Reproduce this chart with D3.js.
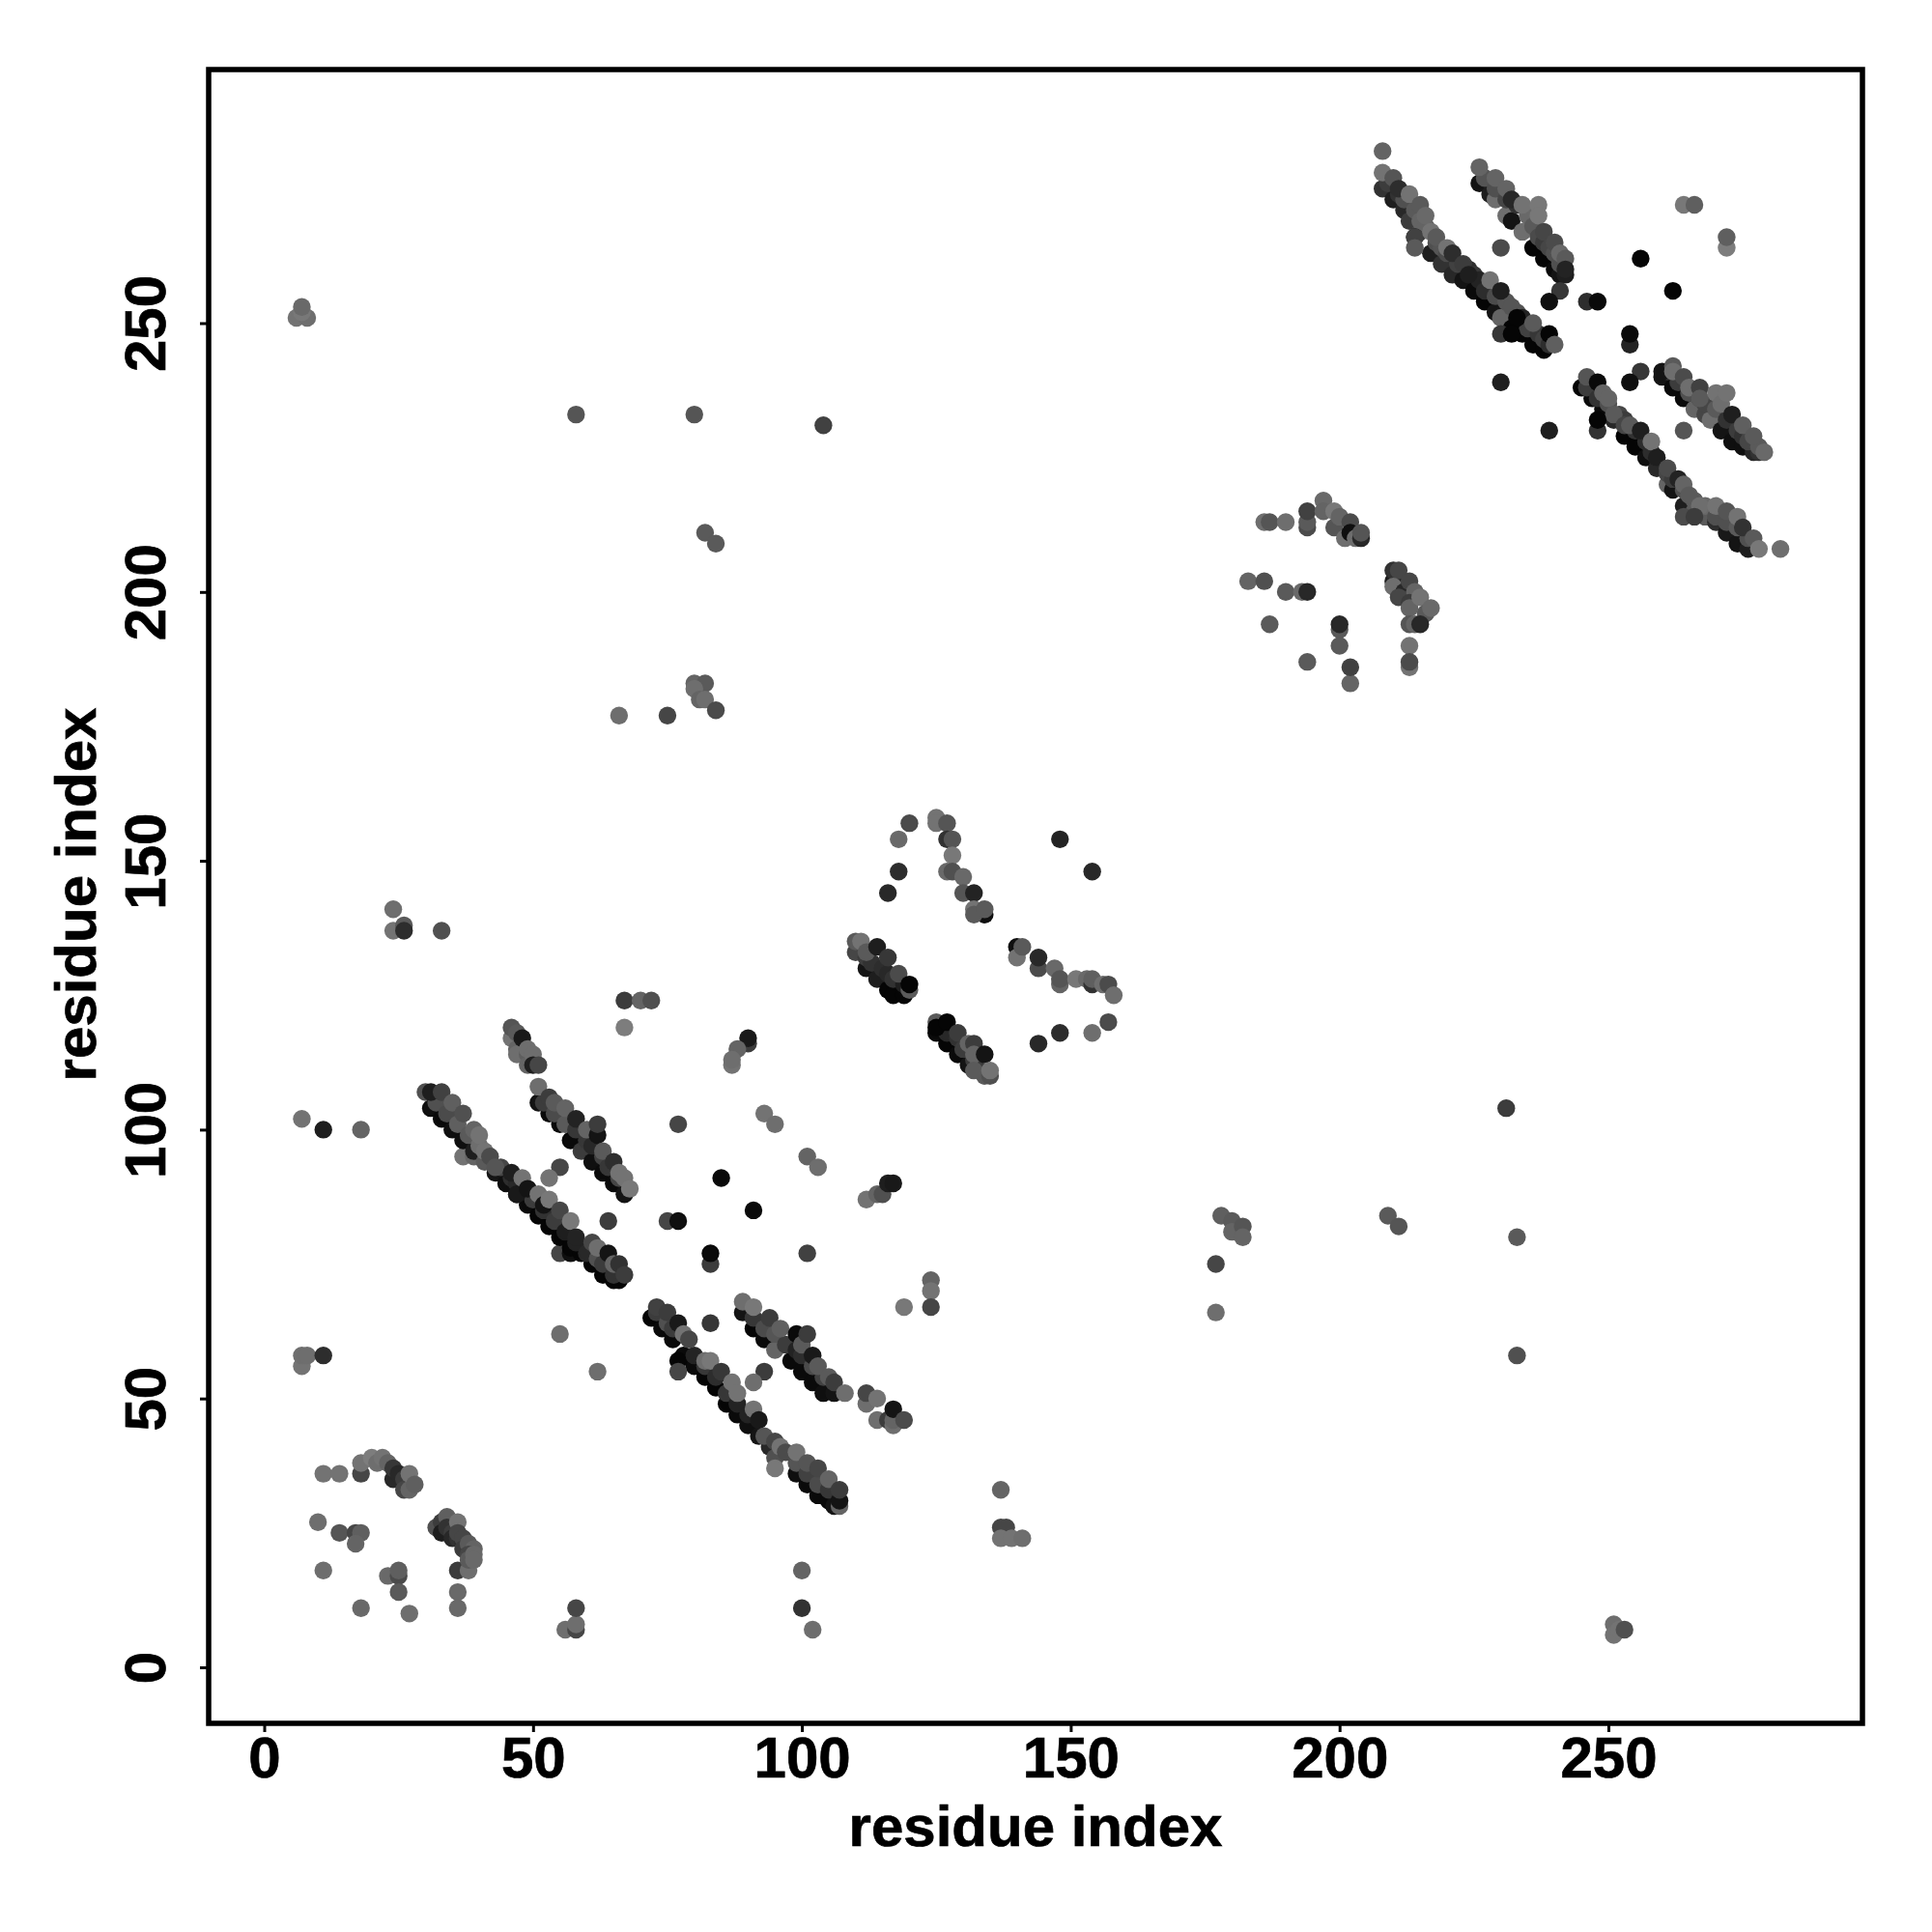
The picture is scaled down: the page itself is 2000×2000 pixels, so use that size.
<!DOCTYPE html>
<html><head><meta charset="utf-8">
<script src="https://cdn.jsdelivr.net/npm/d3@7"></script>
<style>html,body{margin:0;padding:0;background:#fff}svg{display:block}</style>
</head><body>
<svg id="c" width="2000" height="2000"></svg>
<script>
const xTicks=[0,50,100,150,200,250];
const yTicks=[0,50,100,150,200,250];
const xTitle="residue index", yTitle="residue index";
// each entry: residue x, residue y, gray level
const bottomLeft=[[11,36,115],[14,36,115],[18,36,70],[18,38,115],[20,39,125],[21,38,110],[22,39,115],[23,38,100],[24,35,40],[24,37,55],[25,36,40],[26,35,60],[26,33,70],[27,33,100],[27,36,115],[28,34,95],
[10,27,110],[14,25,85],[17,25,70],[18,25,95],[17,23,100],[11,18,110],[23,17,105],[25,17,75],[25,18,95],[25,14,90],[18,11,105],[27,10,110],[36,14,105],[36,11,105],[36,18,60],[38,18,110],
[32,26,80],[33,27,60],[34,28,95],[33,25,30],[34,26,50],[35,25,60],[36,27,115],[35,24,40],[36,24,50],[36,25,70],[37,23,45],[37,24,70],[37,22,60],[38,23,90],[39,22,100],[38,21,70],[38,20,90],[39,21,105],[39,20,105]];
const isolatedLeft=[[6,251,115],[8,251,110],[7,252,120],[7,253,105],[58,233,85],[80,233,85],[104,231,65],[82,211,90],[84,209,90],
[80,183,100],[82,183,90],[80,182,110],[81,180,100],[82,180,110],[84,178,75],[66,177,110],[75,177,70],
[24,141,110],[24,137,115],[26,138,90],[26,137,45],[33,137,80],[7,102,115],[11,100,30],[18,100,100],[7,56,115],[7,58,110],[8,58,110],[11,58,45],
[56,7,110],[58,7,70],[58,8,110],[58,11,70],[100,18,100],[100,11,50],[102,7,110],[251,8,110],[251,6,115],[252,7,115],[253,7,80],
[137,33,100],[137,26,70],[138,26,70],[137,24,115],[139,24,115],[141,24,110]];
const isolatedRight=[[177,66,110],[177,75,70],[178,84,95],[180,83,90],[180,81,100],[182,82,85],[182,80,100],[209,84,90],[211,82,85],[231,104,60],[233,80,90],[233,58,80]];
const isolatedMiddle=[[67,119,125],[67,124,60],[70,124,100],[72,124,80],[90,116,60],[90,117,25],[88,115,100],[87,112,115],[87,113,110],
[77,101,70],[93,103,115],[95,101,110],[101,95,100],[103,93,110],[85,91,10],[91,85,10],[64,83,60],[75,83,70],[77,83,15],[83,75,60],[83,77,10],[101,77,65],
[55,93,70],[53,91,115],[37,95,115],[39,95,100],[55,77,70],[57,77,15],[112,87,115],[114,88,100],[115,88,80],[116,90,30],[117,90,25],
[83,64,55],[93,55,60],[91,53,110],[55,62,110],[62,55,110],[119,67,120],[124,72,100],[124,70,115],[124,67,70]];
const lineAEdge=[[31,104,15],[33,102,10],[35,100,15],[37,98,15],[39,96,30],[41,94,90],[43,92,20],[45,90,15],[47,88,10],[49,86,10],[51,84,5],[53,82,5],[55,80,5],[57,78,5],[59,77,5],[61,75,5],[63,73,5],[65,72,5],[66,72,5]];
const lineAMid=[[32,105,80],[34,103,75],[36,101,95],[38,99,90],[40,97,110],[44,93,70],[46,91,45],[47,90,40],[49,89,80],[50,87,60],[52,85,50],[54,83,60],[56,81,30],[58,79,35],[60,77,40],[62,76,80],[63,75,60],[65,73,50]];
const lineA=[[30,107,80],[31,107,30],[33,107,65],[35,105,95],[37,103,80],[39,100,100],[40,99,115],[41,96,115],[42,95,75],[43,93,85],[46,92,30],[47,88,25],[48,91,115],[49,89,20],[51,88,115],[52,86,20],[53,87,120],[55,85,70],[57,83,120],[58,80,35],[61,79,70],[62,78,110],[64,77,20],[65,75,100],[66,75,50],[67,73,60]];
const lineBEdge=[[51,105,20],[53,103,10],[55,101,10],[57,98,10],[59,96,60],[61,94,15],[63,92,10],[65,90,10],[67,88,20]];
const lineBMid=[[52,105,60],[54,103,75],[56,101,90],[58,100,55],[60,98,55],[61,97,40],[63,95,65],[64,93,55],[66,91,70]];
const lineB=[[46,117,115],[46,119,85],[47,118,90],[47,115,100],[47,114,110],[49,114,95],[48,117,25],[49,115,110],[50,113,40],[49,112,100],[50,114,110],[50,112,30],[51,112,70],
[51,108,110],[53,106,60],[54,105,90],[56,104,100],[58,102,35],[60,100,100],[62,99,20],[62,101,60],[63,96,90],[65,94,45],[66,92,115],[67,91,115],[68,89,120]];
const lineCEdge=[[72,65,5],[74,63,10],[76,61,10],[78,58,10],[80,56,10],[82,54,5],[84,52,5],[86,49,5],[88,47,10],[90,45,15],[92,43,20],[94,41,40],[95,39,80],[99,36,15],[101,34,10],[103,32,10],[105,31,10],[106,30,20]];
const lineCMid=[[73,66,60],[75,64,80],[76,63,60],[77,57,5],[80,58,35],[82,56,55],[84,54,45],[86,51,55],[88,49,35],[90,47,35],[99,38,85],[101,36,65],[103,34,75],[105,33,55]];
const lineC=[[73,67,65],[75,66,60],[77,55,70],[77,64,25],[78,62,115],[79,61,70],[82,57,110],[83,57,120],[85,55,55],[87,53,115],[88,51,115],[91,48,115],[92,46,25],[93,43,85],[95,37,120],[95,42,70],[96,41,115],[97,40,75],[99,40,115],[101,38,85],[103,37,70],[105,35,100],[107,30,100],[107,31,20],[107,33,60]];
const lineDEdge=[[89,66,20],[91,63,5],[93,61,10],[95,59,100],[98,57,10],[100,55,10],[102,53,10],[104,51,15],[106,51,20]];
const lineDMid=[[91,65,55],[93,63,75],[95,62,85],[97,60,60],[99,59,35],[100,58,45],[102,56,75],[104,54,65]];
const lineD=[[89,68,110],[91,67,120],[94,65,60],[96,63,95],[99,62,10],[100,60,90],[101,62,60],[102,58,25],[103,56,90],[105,54,90],[106,53,60],[108,51,110],
[112,49,110],[112,51,70],[114,50,115],[114,46,110],[116,46,60],[117,45,110],[117,46,100],[117,48,20],[119,46,75]];
const archMiddle=[[120,157,75],[118,154,105],[118,148,45],[116,144,40],[125,158,115],[125,157,115],[127,157,85],[127,154,50],[128,154,85],[128,151,120],[127,148,105],[128,148,80],[130,147,105],[130,144,85],[132,144,35],[132,141,115],[134,140,15],[132,140,90],[134,141,90],
[148,154,35],[154,148,40],[140,134,15],[140,132,115],[141,134,90],[144,130,75],[144,132,40],[147,130,105],[148,127,100],[148,128,85],[151,128,120],[153,128,105],[154,127,50],[154,128,95],[156,127,110],[157,127,75],[158,125,110],
[157,120,75],[154,118,110],[148,118,45],[144,116,40]];
const lineF=[[110,133,70],[112,130,20],[114,128,30],[116,126,5],[117,125,5],[119,125,5],
[112,132,60],[113,131,50],[115,130,45],[116,129,40],[117,128,50],[119,127,30],
[120,126,90],[110,135,90],[111,135,115],[112,133,90],[114,134,30],[116,132,55],[118,129,75],[120,127,5]];
const lineG=[[125,118,10],[127,116,5],[129,114,10],[131,112,20],[133,111,60],[134,110,90],
[127,118,40],[129,117,50],[130,115,60],[132,113,60],
[125,120,90],[125,119,5],[127,120,5],[129,118,60],[131,116,100],[132,116,60],[132,114,100],[132,111,90],[134,114,20],[135,110,80],[135,111,115]];
const archUpper=[[186,213,110],[187,213,85],[190,213,110],[194,212,75],[194,213,90],[194,215,65],[197,217,105],[197,215,100],[199,212,85],[199,215,120],[200,214,100],[201,210,110],[202,213,75],[202,211,15],[203,210,110],[204,210,40],[204,211,85],
[183,202,100],[186,202,80],[190,200,90],[193,200,105],[194,200,40],[187,194,90],[200,193,90],[200,194,40],[200,190,90],[194,187,90],[202,183,100],[202,186,65],
[210,202,30],[210,204,50],[211,204,70],[210,201,110],[212,200,40],[213,202,70],[211,199,70],[214,200,100],[213,198,60],[213,197,100],[215,199,115],[216,196,90],[217,197,105],[213,194,85],[214,194,100],[215,194,40],[213,190,115],[213,186,115],[213,187,75]];
const line1Edge=[[208,275,50],[210,273,30],[212,271,40],[213,269,60],[215,267,70],[217,263,30],[219,261,50],[221,259,40],[223,258,20],[225,256,10],[227,254,5],[229,252,20],[230,251,100],[232,249,5],[234,248,5],[236,246,5],[238,245,5]];
const line1Mid=[[209,276,60],[211,274,50],[212,273,80],[214,271,90],[215,269,100],[216,268,100],[218,265,80],[219,264,85],[220,263,75],[222,261,65],[224,260,45],[225,259,55],[226,258,35],[227,256,45],[229,255,75],[231,254,85],[233,252,85],[234,251,35],[235,249,65],[237,248,55],[238,247,65],[239,246,45]];
const line1=[[208,278,115],[210,277,85],[211,275,45],[213,274,115],[215,272,90],[216,270,105],[214,266,30],[214,266,65],[214,264,90],[217,267,115],[218,266,90],[220,264,115],[221,263,45],[223,261,60],[224,259,30],[228,258,115],[230,256,30],[232,253,85],[233,251,5],[236,250,90],[239,248,5],[240,246,95]];
const line2=[[226,276,20],[228,274,30],[229,273,110],[231,270,110],[232,269,20],[234,267,110],[236,264,5],[238,262,5],[240,260,10],[241,259,20],[242,259,30],
[227,277,85],[229,275,80],[231,273,70],[233,272,50],[235,270,105],[236,268,90],[237,266,75],[238,265,60],[239,264,70],[240,263,80],[241,261,80],
[226,279,100],[229,277,100],[231,275,100],[232,273,40],[234,272,115],[237,272,120],[237,270,120],[238,267,70],[240,265,75],[241,263,105],[242,262,90],[242,260,35]];
const line3=[[245,238,5],[247,236,10],[249,234,10],[251,232,40],[253,229,5],[255,227,5],[257,225,15],[259,223,40],[261,220,100],[262,219,20],[264,216,30],[266,215,90],[268,214,90],[270,213,45],[272,211,25],[274,209,20],[276,208,30],
[246,238,60],[248,236,50],[250,235,80],[252,233,70],[253,232,60],[255,230,50],[257,228,45],[258,226,45],[259,225,50],[261,222,70],[262,221,60],[264,219,80],[266,217,90],[268,216,105],[270,214,80],[272,213,80],[274,212,90],[276,210,80],
[246,240,85],[248,239,10],[249,237,100],[250,236,100],[251,233,90],[253,231,70],[254,231,90],[256,230,30],[258,228,115],[259,225,30],[261,223,75],[263,221,35],[264,220,100],[265,218,90],[267,216,110],[270,216,115],[272,215,85],[274,214,115],[275,212,50],[277,210,90],[278,208,120]];
const line4=[[260,240,20],[262,238,10],[264,236,10],[266,234,100],[268,233,70],[269,232,110],[271,230,20],[273,228,15],[275,227,15],[277,226,40],[278,226,50],
[261,241,50],[263,239,60],[265,237,80],[267,236,70],[268,235,70],[270,234,90],[272,232,50],[274,230,60],[275,229,50],[276,228,70],[278,227,90],
[260,241,20],[262,242,90],[262,241,110],[264,240,75],[265,238,110],[267,238,65],[267,236,90],[270,237,115],[271,235,110],[272,237,115],[273,233,30],[275,231,95],[277,229,90],[279,226,105]];
const isolatedUpperRight=[[208,282,100],[264,272,120],[266,272,95],[272,264,125],[272,266,95],[230,264,75],[256,262,5],[262,256,5],[241,256,55],[239,254,15],[246,254,45],[248,254,10],[254,246,35],[254,248,10],[230,248,55],[232,248,5],[256,241,55],[254,239,15],[230,239,30],[239,230,30],[248,230,50],[248,232,5],[264,230,85],[264,214,75],[266,214,60],[282,208,110]];

const clusters=[bottomLeft,isolatedLeft,isolatedRight,isolatedMiddle,lineAEdge,lineAMid,lineA,lineBEdge,lineBMid,lineB,lineCEdge,lineCMid,lineC,lineDEdge,lineDMid,lineD,archMiddle,lineF,lineG,archUpper,line1Edge,line1Mid,line1,line2,line3,line4,isolatedUpperRight];

const L=216,R=1928,T=72,B=1784;
const x=d3.scaleLinear().domain([0,250]).range([273.5,1665]);
const y=d3.scaleLinear().domain([0,250]).range([1726,334.5]);
const svg=d3.select("#c");
const font='"Liberation Sans",Arial,sans-serif';
svg.append("g").selectAll("circle").data(clusters.flat()).join("circle")
 .attr("cx",d=>x(d[0])).attr("cy",d=>y(d[1])).attr("r",9.2)
 .attr("fill",d=>d3.rgb(d[2],d[2],d[2]).formatHex());
svg.append("rect").attr("x",L).attr("y",T).attr("width",R-L).attr("height",B-T)
 .attr("fill","none").attr("stroke","#000").attr("stroke-width",5.5);
const gx=svg.append("g").attr("transform",`translate(0,${B})`)
 .call(d3.axisBottom(x).tickValues(xTicks).tickSize(9).tickSizeOuter(0));
const gy=svg.append("g").attr("transform",`translate(${L},0)`)
 .call(d3.axisLeft(y).tickValues(yTicks).tickSize(9).tickSizeOuter(0));
[gx,gy].forEach(g=>{g.select(".domain").remove();
 g.selectAll("line").attr("stroke","#000").attr("stroke-width",3);
 g.selectAll("text").attr("fill","#000").attr("stroke","#000").attr("stroke-width",0.7).style("font-family",font).style("font-weight","bold").style("font-size","60px");});
gx.selectAll("text").attr("y",56).attr("dy",0);
gy.selectAll("text").attr("text-anchor","middle").attr("dy",0).attr("x",0)
 .attr("transform",`translate(-45,0) rotate(-90)`);
svg.append("text").attr("x",1072).attr("y",1911).attr("text-anchor","middle").attr("stroke","#000").attr("stroke-width",0.7)
 .style("font-family",font).style("font-weight","bold").style("font-size","60px").text(xTitle);
svg.append("text").attr("transform","translate(99,926) rotate(-90)").attr("text-anchor","middle").attr("stroke","#000").attr("stroke-width",0.7)
 .style("font-family",font).style("font-weight","bold").style("font-size","60px").text(yTitle);
</script></body></html>
